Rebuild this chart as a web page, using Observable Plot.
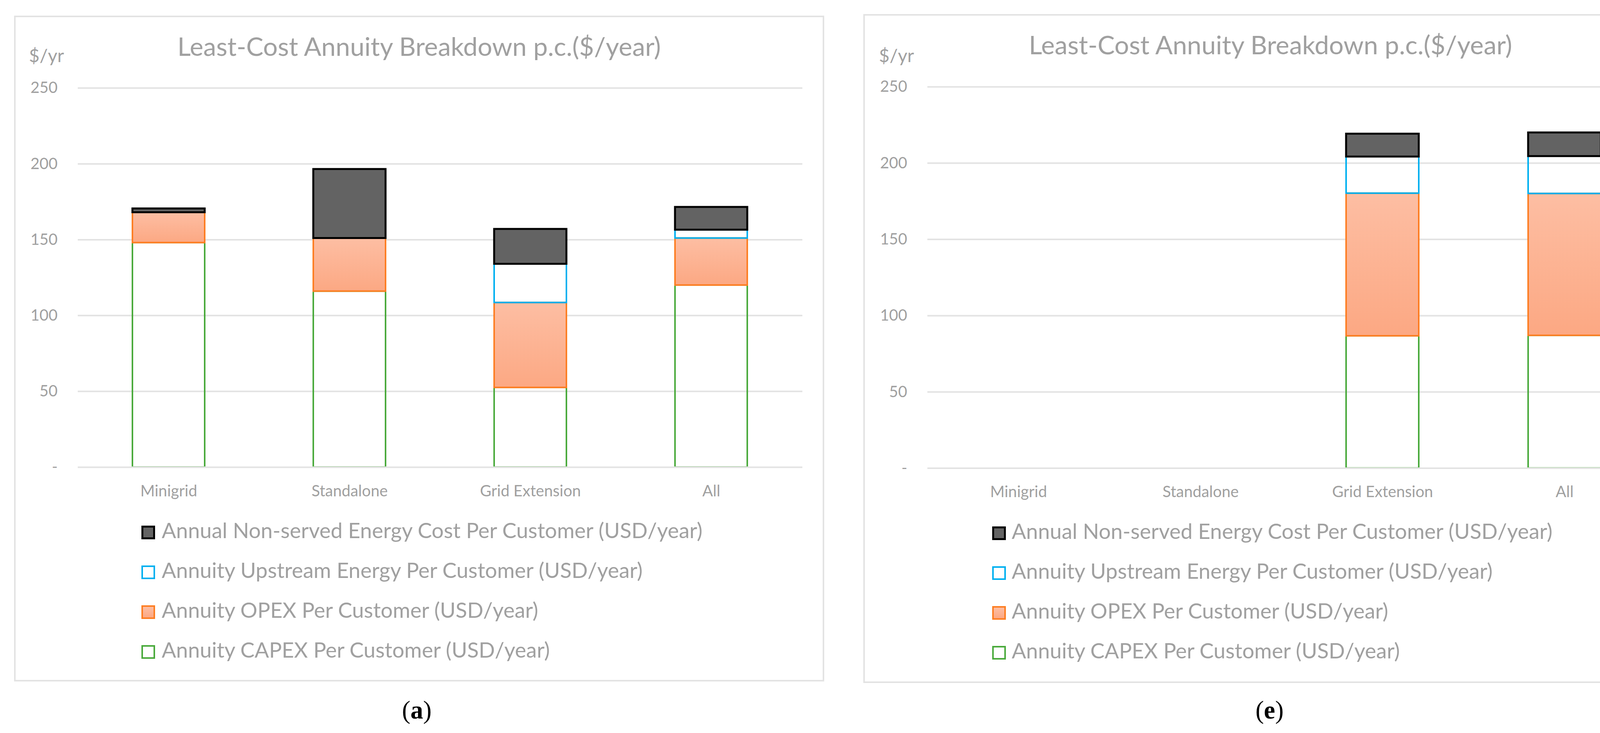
<!DOCTYPE html>
<html><head><meta charset="utf-8">
<script src="https://cdn.jsdelivr.net/npm/d3@7"></script>
<script src="https://cdn.jsdelivr.net/npm/@observablehq/plot@0.6"></script>
<style>
html,body{margin:0;padding:0;background:#fff;}
#page{position:relative;width:4338px;height:1877px;overflow:hidden;background:#fff;}
.frame{position:absolute;box-sizing:border-box;border:4px solid #e3e3e3;}
.txt{position:absolute;white-space:nowrap;line-height:1;}
.sw{position:absolute;box-sizing:border-box;}
svg{position:absolute;overflow:visible;}
</style></head><body><div id="page"></div>
<script>
// ---------------- data ----------------
const categories = ["Minigrid", "Standalone", "Grid Extension", "All"];
const seriesNames = [
  "Annuity CAPEX Per Customer (USD/year)",
  "Annuity OPEX Per Customer (USD/year)",
  "Annuity Upstream Energy Per Customer (USD/year)",
  "Annual Non-served Energy Cost Per Customer (USD/year)"
];
// panel (a)
const capexA    = [148, 116, 52.5, 120];
const opexA     = [20, 35, 56, 31];
const upstreamA = [0, 0, 25.5, 5.5];
const nseA      = [2.5, 45.5, 23, 15];
// panel (e)
const capexE    = [0, 0, 86.7, 87];
const opexE     = [0, 0, 93.5, 93];
const upstreamE = [0, 0, 24, 24.5];
const nseE      = [0, 0, 15, 15.5];
const yTicks = [0, 50, 100, 150, 200, 250];
const titleText = "Least-Cost Annuity Breakdown p.c.($/year)";
const yUnitText = "$/yr";
const panelLetters = ["a", "e"];

// ---------------- styles ----------------
const GRAY = "#a0a0a0";
const styles = {
  [seriesNames[0]]: {fill: "none", stroke: "#4aaa3c", sw: 4, swBg: "#fff"},
  [seriesNames[1]]: {fill: "grad", stroke: "#fd7e23", sw: 4, swBg: "linear-gradient(#fdbea3,#fca883)"},
  [seriesNames[2]]: {fill: "none", stroke: "#00b0f0", sw: 4, swBg: "#fff"},
  [seriesNames[3]]: {fill: "#636363", stroke: "#000000", sw: 5, swBg: "#636363"}
};

const page = document.getElementById("page");
function addText(txt, o) {
  const d = document.createElement("div");
  d.className = "txt";
  d.textContent = txt;
  const asc = o.ascent ?? 0.887;
  d.style.fontFamily = o.family || "Lato";
  d.style.fontSize = o.size + "px";
  d.style.fontWeight = o.weight || "normal";
  d.style.color = o.color || GRAY;
  d.style.top = (o.baseline - asc * o.size) + "px";
  if (o.center !== undefined) {
    d.style.left = (o.center - 1500) + "px";
    d.style.width = "3000px";
    d.style.textAlign = "center";
  } else {
    d.style.left = o.left + "px";
  }
  page.appendChild(d);
  return d;
}

const panels = [
  {capex: capexA, opex: opexA, up: upstreamA, nse: nseA,
   frame: {l: 36, t: 40, r: 2110, b: 1745},
   plot: {l: 199, r: 2054, top: 225, zero: 1196},
   titleBase: 144, unit: {l: 74, base: 160},
   legend: {swX: 362, txtX: 414, y0: 1346, dy: 102},
   caption: {c: 1067, base: 1840}},
  {capex: capexE, opex: opexE, up: upstreamE, nse: nseE,
   frame: {l: 2210, t: 36, r: 4295, b: 1749},
   plot: {l: 2374, r: 4239, top: 221.5, zero: 1198},
   titleBase: 140, unit: {l: 2250, base: 160},
   legend: {swX: 2540, txtX: 2590, y0: 1348, dy: 102},
   caption: {c: 3250, base: 1840}}
];

panels.forEach((p, pi) => {
  // frame
  const f = document.createElement("div");
  f.className = "frame";
  Object.assign(f.style, {left: p.frame.l + "px", top: p.frame.t + "px",
    width: (p.frame.r - p.frame.l) + "px", height: (p.frame.b - p.frame.t) + "px"});
  page.appendChild(f);

  // rows
  const rows = [];
  categories.forEach((c, i) => {
    [p.capex, p.opex, p.up, p.nse].forEach((arr, si) => {
      if (arr[i] > 0) rows.push({cat: c, series: seriesNames[si], value: arr[i]});
    });
  });

  const ML = 170, MR = 20, MT = 20, MB = 100;
  const plotH = p.plot.zero - p.plot.top;
  const W = ML + (p.plot.r - p.plot.l) + MR;
  const H = MT + plotH + MB;
  const gid = "opexGrad" + pi;

  const chart = Plot.plot({
    width: W, height: H,
    marginLeft: ML, marginRight: MR, marginTop: MT, marginBottom: MB,
    style: {fontFamily: "Lato", color: GRAY, background: "transparent", overflow: "visible"},
    x: {domain: categories, paddingInner: 0.6, paddingOuter: 0.3},
    y: {domain: [0, 250]},
    color: {type: "identity"},
    marks: [
      () => {
        const defs = d3.create("svg:defs");
        const g = defs.append("linearGradient").attr("id", gid)
          .attr("x1", 0).attr("y1", 0).attr("x2", 0).attr("y2", 1);
        g.append("stop").attr("offset", "0%").attr("stop-color", "#fdbea3");
        g.append("stop").attr("offset", "100%").attr("stop-color", "#fca883");
        return defs.node();
      },
      Plot.gridY(yTicks.filter(t => t > 0), {stroke: "#e3e3e3", strokeOpacity: 1, strokeWidth: 4}),
      Plot.barY(rows, Plot.stackY({
        x: "cat", y: "value", z: "series", order: seriesNames,
        fill: d => styles[d.series].fill === "grad" ? `url(#${gid})` : styles[d.series].fill,
        stroke: d => styles[d.series].stroke,
        strokeWidth: d => styles[d.series].sw
      })),
      Plot.ruleY([0], {stroke: "#e3e3e3", strokeWidth: 4}),
      Plot.axisY({ticks: yTicks, tickFormat: d => d === 0 ? "-" : d, tickSize: 0, tickPadding: 52,
        label: null, fontSize: 40, fill: GRAY}),
      Plot.axisX({tickSize: 0, tickPadding: 46, label: null, fontSize: 40, fill: GRAY})
    ]
  });
  chart.style.left = (p.plot.l - ML) + "px";
  chart.style.top = (p.plot.top - MT) + "px";
  page.appendChild(chart);

  // title & unit
  addText(titleText, {center: (p.frame.l + p.frame.r) / 2, baseline: p.titleBase, size: 66});
  addText(yUnitText, {left: p.unit.l, baseline: p.unit.base, size: 47});

  // legend (top to bottom: reverse stack order)
  const legendOrder = seriesNames.slice().reverse();
  legendOrder.forEach((s, k) => {
    const st = styles[s];
    const sw = document.createElement("div");
    sw.className = "sw";
    const y = p.legend.y0 + k * p.legend.dy;
    Object.assign(sw.style, {left: p.legend.swX + "px", top: y + "px", width: "35px", height: "35px",
      border: `${st.sw}px solid ${st.stroke}`, background: st.swBg});
    page.appendChild(sw);
    addText(s, {left: p.legend.txtX, baseline: y + 32, size: 54.5});
  });

  // caption
  const cap = addText("", {center: p.caption.c, baseline: p.caption.base, size: 65,
    family: "Liberation Serif", color: "#000", ascent: 0.8375});
  cap.innerHTML = `(<b>${panelLetters[pi]}</b>)`;
});
</script></body></html>
